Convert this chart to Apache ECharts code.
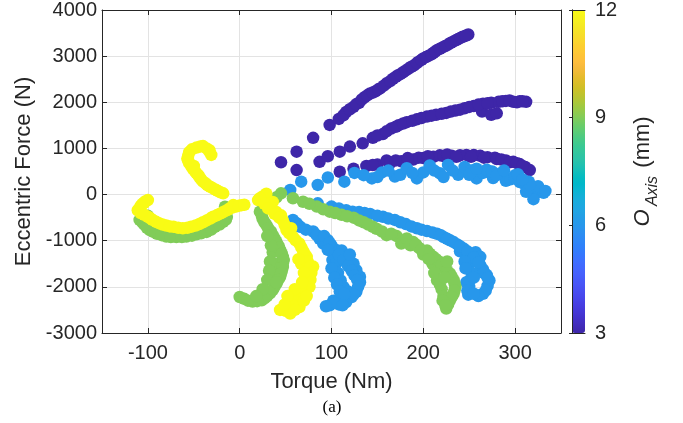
<!DOCTYPE html>
<html><head><meta charset="utf-8">
<script src="https://cdn.jsdelivr.net/npm/echarts@6/dist/echarts.min.js"></script>
<style>html,body{margin:0;padding:0;background:#fff}#c{width:683px;height:423px}</style>
</head><body><div id="c"></div>
<script>
// ---- data (torque Nm, eccentric force N) per O_Axis level ----
const oAxisLevels = [3, 6, 9, 12];
const pts3 = [
[45,700],[62,930],[80,1230],[98,1510],[108,1640],[116,1790],[124,1900],[130,1990],[136,2110],[142,2190],[148,2240],[153,2300],[160,2410],[167,2510],[172,2580],[178,2650],[184,2730],[190,2800],[195,2880],[200,2950],[206,3010],[211,3070],[215,3130],[221,3190],[227,3250],[233,3320],[238,3370],[243,3420],[249,3470],
[113,1720],[120,1850],[127,1960],[133,2060],[139,2150],[145,2210],[151,2280],[157,2360],[164,2460],[170,2550],[175,2610],[181,2690],[187,2770],[193,2850],[198,2920],[203,2980],[209,3040],[213,3100],[218,3160],[224,3220],[230,3290],[236,3350],[241,3400],[246,3440],
[62,530],[87,710],[96,830],[109,930],[120,1040],[134,1110],[145,1230],[156,1310],[165,1430],[173,1500],[182,1570],[193,1630],[204,1690],[214,1730],[225,1770],[235,1820],[245,1870],[255,1920],[265,1970],[274,1990],[282,2010],[290,2030],[298,2010],[305,2020],[312,2010],[264,1800],[274,1730],[280,1760],
[150,1280],[160,1370],[170,1470],[178,1540],[188,1600],[198,1660],[209,1710],[220,1750],[230,1800],[240,1840],[250,1900],[260,1950],[270,1980],[286,2020],[294,2040],[302,2000],[308,2020],
[109,495],[124,560],[138,620],[150,650],[160,740],[164,690],[176,720],[189,760],[195,800],[200,790],[211,820],[218,850],[222,835],[231,840],[240,850],[247,860],[255,855],[262,840],[270,810],[278,800],[280,770],[290,740],[298,710],[305,660],[311,600],[316,530],
[145,640],[170,740],[183,790],[205,830],[226,870],[236,820],[252,820],[266,800],[285,760],[294,700],[302,680],[308,620]
];
const pts6 = [
[55,100],[67,280],[85,210],[96,370],[114,280],[125,470],[144,350],[155,480],[169,390],[175,430],[182,570],[193,350],[200,480],[207,630],[218,460],[227,640],[238,430],[245,600],[252,520],[258,350],[265,470],[269,540],[276,360],[284,460],[290,300],[295,330],[300,420],[305,270],[310,230],[318,170],[322,110],[327,60],[331,40],[320,-100],[312,60],
[135,420],[150,380],[162,520],[188,470],[212,520],[222,380],[232,520],[250,430],[258,560],[275,500],[280,420],[288,520],[300,350],[303,440],[315,280],[325,180],[333,80],[316,210],[308,330],
[85,-190],[100,-260],[116,-340],[130,-380],[142,-420],[156,-480],[169,-550],[181,-640],[193,-730],[204,-790],[215,-850],[222,-920],[229,-990],[237,-1080],[244,-1170],[251,-1300],[258,-1420],[262,-1530],[265,-1620],[269,-1740],[272,-1860],[270,-1980],[265,-2150],[240,-1230],[247,-1350],[257,-1250],[262,-1350],[250,-1500],[253,-1700],[251,-1850],[250,-2000],[249,-2170],
[108,-300],[123,-370],[136,-400],[150,-460],[162,-520],[175,-600],[187,-690],[198,-760],[210,-820],[219,-880],[226,-960],[233,-1030],[240,-1120],[248,-1230],[255,-1360],[260,-1470],[266,-1700],[270,-1800],[268,-2080],[245,-1450],[246,-1600],[247,-1900],[248,-2080],[255,-1800],[260,-2200],[255,-2150],
[58,-550],[66,-700],[80,-800],[87,-960],[96,-990],[91,-1060],[100,-1100],[105,-1200],[111,-1210],[101,-1420],[116,-1350],[120,-1460],[124,-1500],[127,-1640],[131,-1780],[131,-1900],[127,-2110],[122,-2220],[116,-2330],[108,-2380],[98,-2400],[105,-1500],[107,-1700],[110,-1860],[113,-2000],[118,-2100],[102,-2300],
[62,-620],[72,-760],[84,-880],[92,-900],[98,-1050],[108,-1300],[113,-1420],[118,-1550],[122,-1650],[125,-1750],[128,-1850],[129,-2000],[124,-2170],[112,-2300],[104,-2350],[100,-1600],[103,-1800],[106,-1950],[109,-2100],[114,-2150],[120,-1300],[96,-1200],[94,-2420],[112,-2400]
];
const pts9 = [
[-109,-550],[-104,-650],[-98,-770],[-90,-850],[-80,-910],[-69,-920],[-58,-910],[-47,-860],[-36,-810],[-27,-700],[-18,-590],[-14,-480],[-16,-340],[-100,-460],[-16,-264],
[-106,-600],[-101,-720],[-94,-810],[-85,-880],[-75,-920],[-63,-920],[-52,-890],[-42,-840],[-31,-760],[-22,-650],[-15,-540],[-15,-410],[-105,-500],
[45,26],[36,-100],[29,-250],[22,-370],[25,-530],[29,-660],[34,-800],[38,-950],[42,-1100],[44,-1200],[47,-1350],[47,-1490],[46,-1640],[44,-1780],[40,-1930],[36,-2070],[30,-2200],[24,-2290],[14,-2320],[5,-2260],[0,-2220],[38,-1700],[40,-1500],[36,-1250],
[40,-60],[32,-180],[26,-300],[24,-450],[27,-600],[31,-730],[36,-880],[40,-1020],[43,-1150],[46,-1280],[48,-1420],[47,-1570],[45,-1710],[42,-1850],[38,-2000],[33,-2140],[27,-2250],[19,-2310],[9,-2300],[33,-1450],[32,-1650],[30,-1850],[25,-2050],[34,-1100],[30,-900],[40,-1900],[18,-2200],
[58,-80],[69,-156],[84,-260],[98,-370],[111,-440],[124,-500],[135,-600],[145,-700],[149,-740],[160,-880],[171,-900],[176,-1060],[189,-1030],[195,-1150],[204,-1210],[211,-1350],[218,-1460],[223,-1600],[229,-1710],[233,-1850],[235,-2000],[233,-2150],[229,-2290],[225,-2470],[215,-1860],[220,-2050],[222,-2200],[210,-1500],[200,-1300],
[76,-200],[91,-320],[104,-400],[117,-470],[130,-560],[140,-650],[155,-800],[165,-850],[182,-950],[186,-1100],[192,-1080],[198,-1200],[207,-1280],[214,-1400],[220,-1520],[226,-1650],[231,-1780],[234,-1920],[234,-2080],[231,-2220],[227,-2380],[218,-1950],[221,-2300],[224,-2400],[212,-1700],[206,-1400],[226,-1450],[223,-1800]
];
const pts12 = [
[-31,860],[-36,1000],[-47,1020],[-55,920],[-57,780],[-55,680],[-51,560],[-47,460],[-44,380],[-40,280],[-35,200],[-29,134],[-24,80],[-18,26],[-40,1050],[-33,930],[-50,620],
[-33,960],[-43,1040],[-52,980],[-56,850],[-56,730],[-53,620],[-49,510],[-45,420],[-42,330],[-37,240],[-32,170],[-26,105],[-21,50],
[-100,-120],[-106,-200],[-109,-300],[-108,-400],[-100,-480],[-95,-550],[-88,-620],[-80,-670],[-72,-700],[-62,-730],[-53,-700],[-44,-640],[-36,-560],[-29,-480],[-22,-420],[-16,-360],[-11,-300],[-4,-260],[2,-230],[-104,-180],[-111,-340],[-7,-228],
[-103,-150],[-108,-250],[-109,-350],[-104,-440],[-97,-520],[-91,-590],[-84,-650],[-76,-690],[-67,-720],[-57,-720],[-48,-670],[-40,-600],[-32,-520],[-25,-450],[-19,-390],[-13,-330],[-8,-280],[-1,-240],[5,-220],
[20,-120],[25,-40],[29,20],[36,-160],[33,-260],[40,-380],[45,-450],[47,-560],[51,-770],[56,-730],[58,-920],[65,-1060],[69,-1220],[73,-1350],[76,-1640],[80,-1560],[76,-1780],[74,-1930],[71,-2070],[65,-2150],[62,-2360],[65,-2440],[55,-2330],[55,-2580],[47,-2470],[44,-2500],[76,-2000],[67,-1500],
[22,-80],[27,-200],[31,-300],[38,-420],[43,-500],[49,-660],[54,-840],[61,-990],[67,-1140],[71,-1290],[74,-1450],[77,-1560],[78,-1700],[77,-1850],[73,-2000],[68,-2120],[62,-2250],[58,-2400],[50,-2520],[60,-2500],[70,-2300],[73,-2200],[64,-1400],[70,-1700],[68,-1900],[60,-2050],[52,-2200],[49,-2380]
];
const xTickLabels = [-100, 0, 100, 200, 300];
const yTickLabels = [-3000, -2000, -1000, 0, 1000, 2000, 3000, 4000];
const cbTickLabels = [3, 6, 9, 12];

// parula colormap
const parula = [
[0.2422,0.1504,0.6603],[0.2504,0.1650,0.7076],[0.2578,0.1818,0.7511],[0.2647,0.1978,0.7952],[0.2706,0.2147,0.8364],[0.2751,0.2342,0.8710],[0.2783,0.2559,0.8991],[0.2803,0.2782,0.9221],
[0.2813,0.3006,0.9414],[0.2810,0.3228,0.9579],[0.2795,0.3447,0.9717],[0.2760,0.3667,0.9829],[0.2699,0.3892,0.9906],[0.2602,0.4123,0.9952],[0.2440,0.4358,0.9988],[0.2206,0.4603,0.9973],
[0.1963,0.4847,0.9892],[0.1834,0.5074,0.9798],[0.1786,0.5289,0.9682],[0.1764,0.5499,0.9520],[0.1687,0.5703,0.9359],[0.1540,0.5902,0.9218],[0.1460,0.6091,0.9079],[0.1380,0.6276,0.8973],
[0.1248,0.6459,0.8883],[0.1113,0.6635,0.8763],[0.0952,0.6798,0.8598],[0.0689,0.6948,0.8394],[0.0297,0.7082,0.8163],[0.0036,0.7203,0.7917],[0.0067,0.7312,0.7660],[0.0433,0.7411,0.7394],
[0.0964,0.7500,0.7120],[0.1408,0.7584,0.6842],[0.1717,0.7670,0.6554],[0.1938,0.7758,0.6251],[0.2161,0.7843,0.5923],[0.2470,0.7918,0.5567],[0.2906,0.7973,0.5188],[0.3406,0.8008,0.4789],
[0.3909,0.8029,0.4354],[0.4456,0.8024,0.3909],[0.5044,0.7993,0.3480],[0.5616,0.7942,0.3045],[0.6174,0.7876,0.2612],[0.6720,0.7793,0.2227],[0.7242,0.7698,0.1910],[0.7738,0.7598,0.1646],
[0.8203,0.7498,0.1535],[0.8634,0.7406,0.1596],[0.9035,0.7330,0.1774],[0.9393,0.7288,0.2100],[0.9728,0.7298,0.2394],[0.9956,0.7434,0.2371],[0.9970,0.7659,0.2199],[0.9952,0.7893,0.2028],
[0.9892,0.8136,0.1885],[0.9786,0.8386,0.1766],[0.9676,0.8639,0.1643],[0.9610,0.8890,0.1537],[0.9597,0.9135,0.1423],[0.9628,0.9373,0.1265],[0.9691,0.9606,0.1064],[0.9769,0.9839,0.0805]
].map(c => 'rgb(' + c.map(v => Math.round(v * 255)).join(',') + ')');

const groups = [pts3, pts6, pts9, pts12];
const FONT = '"Liberation Sans", Arial, Helvetica, sans-serif';
const TXT = '#262626';
const G = {left: 102, top: 10, width: 459, height: 323};
const CB = {left: 572, top: 10, width: 13, height: 323};

const chart = echarts.init(document.getElementById('c'), null, {renderer: 'canvas'});
const axBase = {
  axisLine: {show: true, onZero: false, lineStyle: {color: TXT, width: 1}},
  axisTick: {show: true, inside: true, length: 5, lineStyle: {color: TXT}},
};
chart.setOption({
  animation: false,
  backgroundColor: '#fff',
  textStyle: {fontFamily: FONT},
  grid: [
    {left: G.left, top: G.top, width: G.width, height: G.height, containLabel: false},
    {left: CB.left, top: CB.top, width: CB.width, height: CB.height, containLabel: false}
  ],
  xAxis: [
    Object.assign({}, axBase, {
      gridIndex: 0, type: 'value', position: 'bottom', min: -150, max: 350, splitNumber: 5,
      splitLine: {show: true, lineStyle: {color: '#e3e3e3', width: 1}},
      axisLabel: {color: TXT, fontSize: 20, margin: 10, fontFamily: FONT,
        formatter: v => xTickLabels.includes(v) ? String(v) : ''},
      name: 'Torque (Nm)', nameLocation: 'middle', nameGap: 38,
      nameTextStyle: {color: TXT, fontSize: 22, fontFamily: FONT}
    }),
    Object.assign({}, axBase, {
      gridIndex: 0, type: 'value', position: 'top', min: -150, max: 350, splitNumber: 5,
      splitLine: {show: false}, axisLabel: {show: false}
    }),
    {gridIndex: 1, type: 'value', position: 'bottom', min: 0, max: 1, z: 10,
      axisLine: {show: true, lineStyle: {color: TXT}}, axisTick: {show: false}, axisLabel: {show: false}, splitLine: {show: false}},
    {gridIndex: 1, type: 'value', position: 'top', min: 0, max: 1, z: 10,
      axisLine: {show: true, lineStyle: {color: TXT}}, axisTick: {show: false}, axisLabel: {show: false}, splitLine: {show: false}}
  ],
  yAxis: [
    Object.assign({}, axBase, {
      gridIndex: 0, type: 'value', position: 'left', min: -3000, max: 4000, interval: 1000,
      splitLine: {show: true, lineStyle: {color: '#e3e3e3', width: 1}},
      axisLabel: {color: TXT, fontSize: 20, margin: 5, fontFamily: FONT,
        formatter: v => yTickLabels.includes(v) ? String(v) : ''},
      name: 'Eccentric Force (N)', nameLocation: 'middle', nameGap: 64, nameRotate: 90,
      nameTextStyle: {color: TXT, fontSize: 22, fontFamily: FONT}
    }),
    Object.assign({}, axBase, {
      gridIndex: 0, type: 'value', position: 'right', min: -3000, max: 4000, interval: 1000,
      splitLine: {show: false}, axisLabel: {show: false}
    }),
    {gridIndex: 1, type: 'value', position: 'right', min: 3, max: 12, interval: 3, z: 10,
      axisLine: {show: true, lineStyle: {color: TXT}},
      axisTick: {show: true, inside: true, length: 3, lineStyle: {color: TXT}},
      axisLabel: {color: TXT, fontSize: 20, margin: 10, fontFamily: FONT,
        formatter: v => cbTickLabels.includes(v) ? String(v) : ''},
      splitLine: {show: false}},
    {gridIndex: 1, type: 'value', position: 'left', min: 3, max: 12, interval: 3, z: 10,
      axisLine: {show: true, lineStyle: {color: TXT}}, axisTick: {show: false}, axisLabel: {show: false}, splitLine: {show: false}}
  ],
  visualMap: {
    type: 'continuous', min: 3, max: 12, dimension: 2, seriesIndex: [0, 1, 2, 3],
    orient: 'vertical', left: CB.left, top: CB.top, itemWidth: CB.width, itemHeight: CB.height,
    padding: 0, calculable: false, text: null, showLabel: false, realtime: false, hoverLink: false,
    inRange: {color: parula}
  },
  graphic: [
    {type: 'text', x: 643, y: 218, rotation: Math.PI / 2,
      style: {text: 'O', font: 'italic 22px ' + FONT, fill: TXT, align: 'center', verticalAlign: 'middle'}},
    {type: 'text', x: 653, y: 191, rotation: Math.PI / 2,
      style: {text: 'Axis', font: 'italic 16px ' + FONT, fill: TXT, align: 'center', verticalAlign: 'middle'}},
    {type: 'text', x: 643, y: 142, rotation: Math.PI / 2,
      style: {text: '(mm)', font: '22px ' + FONT, fill: TXT, align: 'center', verticalAlign: 'middle'}},
    {type: 'text', x: 332, y: 408,
      style: {text: '(a)', font: '17px "Liberation Serif", "Times New Roman", serif', fill: '#000', align: 'center', verticalAlign: 'middle'}}
  ],
  series: groups.map((pts, i) => ({
    type: 'scatter', xAxisIndex: 0, yAxisIndex: 0, symbol: 'circle', symbolSize: 12.5,
    data: pts.map(p => [p[0], p[1], oAxisLevels[i]]),
    itemStyle: {opacity: 1}, emphasis: {disabled: true}
  }))
});
</script></body></html>
